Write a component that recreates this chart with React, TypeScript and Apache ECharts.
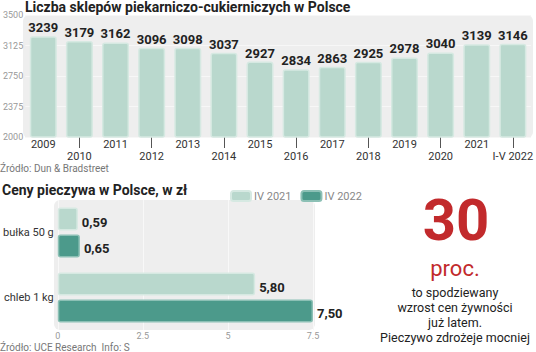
import React, { useEffect, useRef } from "react";
import * as echarts from "echarts";

const years = ["2009", "2010", "2011", "2012", "2013", "2014", "2015", "2016", "2017", "2018", "2019", "2020", "2021", "I-V 2022"];
const shops = [3239, 3179, 3162, 3096, 3098, 3037, 2927, 2834, 2863, 2925, 2978, 3040, 3139, 3146];
const shopTicks = { min: 2000, max: 3500, step: 375 };

const products = ["bułka 50 g", "chleb 1 kg"];
const priceSeriesNames = ["IV 2021", "IV 2022"];
const prices2021 = [0.59, 5.8];
const prices2022 = [0.65, 7.5];
const priceTicks = { min: 0, max: 7.5, step: 2.5 };

const FONT = "Roboto, 'Noto Sans', sans-serif";
const LIGHT = "#b9d8cd";
const DARK = "#4c9a8b";
const RED = "#c22a2c";

export default function App() {
  const ref = useRef<HTMLDivElement>(null);
  useEffect(() => {
    if (!ref.current) return;
    const chart = echarts.init(ref.current, null, { renderer: "svg" });
    const fmt = (v: number) => v.toFixed(2).replace(".", ",");
    chart.setOption({
      animation: false,
      textStyle: { fontFamily: FONT },
      legend: {
        left: 225,
        top: 185,
        itemWidth: 20,
        itemHeight: 10,
        itemGap: 9,
        icon: "roundRect",
        data: priceSeriesNames,
        textStyle: { color: "#888", fontSize: 11, fontFamily: FONT, padding: [0, 0, 0, -2] },
      },
      grid: [
        { left: 23, right: 4, top: 15, height: 122 },
        { left: 56, width: 257, top: 200, height: 130 },
      ],
      xAxis: [
        {
          type: "category",
          gridIndex: 0,
          data: years,
          axisLine: { show: false },
          axisTick: {
            show: true,
            alignWithLabel: true,
            length: 11,
            interval: (i: number) => i % 2 === 1,
            lineStyle: { color: "#555", width: 1 },
          },
          axisLabel: {
            interval: 0,
            margin: 1,
            fontSize: 11,
            lineHeight: 12,
            color: "#333",
            fontFamily: FONT,
            formatter: (v: string, i: number) => (i % 2 === 1 ? "\n" + v : v),
          },
        },
        {
          type: "value",
          gridIndex: 1,
          min: priceTicks.min,
          max: priceTicks.max,
          interval: priceTicks.step,
          axisLine: { show: false },
          axisTick: { show: false },
          splitLine: { show: true, lineStyle: { color: "#f8f8f8", width: 1 } },
          axisLabel: { fontSize: 9, lineHeight: 10, color: "#999", margin: 1, fontFamily: FONT, formatter: (v: number) => String(v) },
        },
      ],
      yAxis: [
        {
          type: "value",
          gridIndex: 0,
          min: shopTicks.min,
          max: shopTicks.max,
          interval: shopTicks.step,
          axisLine: { show: false },
          axisTick: { show: false },
          splitLine: { show: true, lineStyle: { color: "#f7f7f7", width: 1 } },
          axisLabel: { fontSize: 9, color: "#999", margin: 2, fontFamily: FONT, formatter: (v: number) => String(v) },
        },
        {
          type: "category",
          gridIndex: 1,
          data: products,
          inverse: true,
          axisLine: { show: false },
          axisTick: { show: false },
          axisLabel: { fontSize: 11, color: "#333", margin: 4, fontFamily: FONT, padding: [10, 0, 0, 0] },
        },
      ],
      series: [
        {
          type: "bar",
          xAxisIndex: 0,
          yAxisIndex: 0,
          data: shops,
          barWidth: 27,
          itemStyle: { color: LIGHT, borderColor: "#d6e9e2", borderWidth: 1.5, borderRadius: 2 },
          label: {
            show: true,
            position: "top",
            distance: 2,
            fontSize: 13,
            fontWeight: "bold",
            color: "#222",
            fontFamily: FONT,
          },
        },
        {
          name: priceSeriesNames[0],
          type: "bar",
          xAxisIndex: 1,
          yAxisIndex: 1,
          data: prices2021,
          barWidth: 23,
          barGap: "17%",
          itemStyle: { color: LIGHT, borderColor: "#d6e9e2", borderWidth: 1.5, borderRadius: 2 },
          label: {
            show: true,
            position: "right",
            distance: 4,
            offset: [0, 3],
            fontSize: 13,
            fontWeight: "bold",
            color: "#222",
            fontFamily: FONT,
            formatter: (p: any) => fmt(p.value),
          },
        },
        {
          name: priceSeriesNames[1],
          type: "bar",
          xAxisIndex: 1,
          yAxisIndex: 1,
          data: prices2022,
          barWidth: 23,
          barGap: "17%",
          itemStyle: { color: DARK, borderColor: "#8cc0b5", borderWidth: 1.5, borderRadius: 2 },
          label: {
            show: true,
            position: "right",
            distance: 4,
            offset: [0, 3],
            fontSize: 13,
            fontWeight: "bold",
            color: "#222",
            fontFamily: FONT,
            formatter: (p: any) => fmt(p.value),
          },
        },
      ],
      graphic: [
        { type: "rect", z: -10, shape: { x: 23, y: 15, width: 510, height: 123, r: 6 }, style: { fill: "#eeeeee" } },
        { type: "rect", z: -10, shape: { x: 54, y: 200, width: 261, height: 130, r: 6 }, style: { fill: "#eeeeee" } },
        {
          type: "text",
          left: 25,
          top: 0,
          style: { text: "Liczba sklepów piekarniczo-cukierniczych w Polsce", fontSize: 14, fontWeight: "bold", fill: "#222", fontFamily: FONT },
        },
        {
          type: "text",
          left: 0,
          top: 163,
          style: { text: "Źródło: Dun & Bradstreet", fontSize: 10, fill: "#777", fontFamily: FONT },
        },
        {
          type: "text",
          left: 2,
          top: 183,
          style: { text: "Ceny pieczywa w Polsce, w zł", fontSize: 14, fontWeight: "bold", fill: "#222", fontFamily: FONT },
        },
        {
          type: "text",
          left: 0,
          top: 342,
          style: { text: "Źródło: UCE Research  Info: S", fontSize: 10, fill: "#777", fontFamily: FONT },
        },
        {
          type: "text",
          x: 456,
          y: 220,
          style: { text: "30", fontSize: 58, fontWeight: "bold", fill: RED, fontFamily: FONT, align: "center", verticalAlign: "middle" },
        },
        {
          type: "text",
          x: 455,
          y: 268,
          style: { text: "proc.", fontSize: 22, fill: RED, fontFamily: FONT, align: "center", verticalAlign: "middle" },
        },
        { type: "text", x: 455, y: 292, style: { text: "to spodziewany", fontSize: 12.5, fill: "#222", fontFamily: FONT, align: "center", verticalAlign: "middle" } },
        { type: "text", x: 455, y: 307, style: { text: "wzrost cen żywności", fontSize: 12.5, fill: "#222", fontFamily: FONT, align: "center", verticalAlign: "middle" } },
        { type: "text", x: 455, y: 322, style: { text: "już latem.", fontSize: 12.5, fill: "#222", fontFamily: FONT, align: "center", verticalAlign: "middle" } },
        { type: "text", x: 455, y: 337, style: { text: "Pieczywo zdrożeje mocniej", fontSize: 12.5, fill: "#222", fontFamily: FONT, align: "center", verticalAlign: "middle" } },
      ],
    });
    return () => chart.dispose();
  }, []);
  return <div ref={ref} style={{ width: 536, height: 352, position: "absolute", left: 0, top: 0, background: "#fff" }} />;
}
